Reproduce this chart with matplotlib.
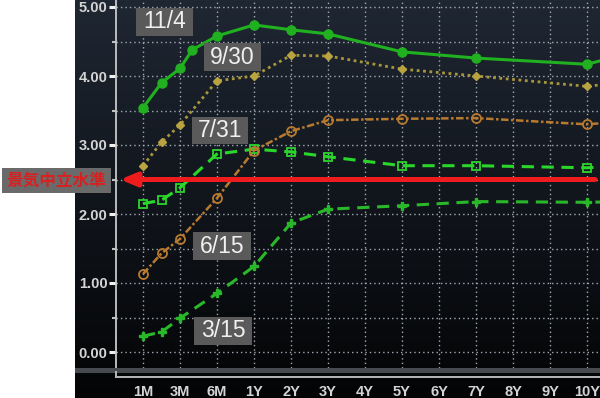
import numpy as np
import matplotlib
matplotlib.use("Agg")
import matplotlib.pyplot as plt
from matplotlib.patches import Rectangle
from matplotlib.lines import Line2D

# ---------------- data ----------------
tick_labels = ["1M", "3M", "6M", "1Y", "2Y", "3Y", "4Y", "5Y", "6Y", "7Y", "8Y", "9Y", "10Y"]
tick_months = [1, 3, 6, 12, 24, 36, 48, 60, 72, 84, 96, 108, 120, 240]  # 240 = off-screen 20Y

months_1104 = [1, 2, 3, 4, 6, 12, 24, 36, 60, 84, 120, 240]
yield_1104 = [3.54, 3.90, 4.11, 4.38, 4.58, 4.74, 4.67, 4.61, 4.35, 4.26, 4.17, 4.31]

months_other = [1, 2, 3, 6, 12, 24, 36, 60, 84, 120, 240]
yield_0930 = [2.70, 3.04, 3.29, 3.93, 4.00, 4.30, 4.29, 4.10, 4.00, 3.85, 3.91]
yield_0731 = [2.15, 2.20, 2.38, 2.87, 2.94, 2.90, 2.83, 2.70, 2.70, 2.67, 2.70]
yield_0615 = [1.13, 1.43, 1.64, 2.23, 2.92, 3.20, 3.36, 3.38, 3.39, 3.30, 3.34]
yield_0315 = [0.23, 0.29, 0.49, 0.85, 1.24, 1.87, 2.07, 2.12, 2.18, 2.17, 2.18]

series_labels = ["11/4", "9/30", "7/31", "6/15", "3/15"]
neutral_level = 2.5
neutral_label = "景気中立水準"

y_ticks = [0, 1, 2, 3, 4, 5]


def pos(months):
    return np.interp(months, tick_months, np.arange(len(tick_months)))


# ---------------- figure ----------------
W, H = 600, 398
fig = plt.figure(figsize=(6, 3.98), dpi=100, facecolor="white")

# dark panel with vertical gradient
bg = fig.add_axes([75 / W, 0, 525 / W, 1], zorder=0)
grad = np.linspace(0, 1, 256).reshape(-1, 1)
top = np.array([0x1f, 0x27, 0x33]) / 255
bot = np.array([0x03, 0x04, 0x05]) / 255
img = top[None, None, :] * (1 - grad[:, :, None]) + bot[None, None, :] * grad[:, :, None]
bg.imshow(img, aspect="auto", extent=[0, 1, 0, 1], origin="upper")
bg.set_axis_off()

ax = fig.add_axes([116 / W, (H - 368) / H, 484 / W, 368 / H], zorder=2)
ax.patch.set_alpha(0)
ax.set_xlim(-27 / 37, 457 / 37)
ax.set_ylim(-16 / 69, 352 / 69)

# grid
grid_kw = dict(color="#a4aab2", lw=1.0, ls=(0, (1, 2.2)), zorder=1)
for i in range(len(tick_labels)):
    ax.axvline(i, **grid_kw)
for v in np.arange(0, 5.01, 0.5):
    ax.axhline(v, **grid_kw)

# series
ax.plot(pos(months_1104), yield_1104, color="#20b020", lw=2.2, ls="-",
        marker="o", ms=6.5, mfc="#20b020", mec="#20b020", zorder=5)
ax.plot(pos(months_other), yield_0930, color="#a8973a", lw=2.0, ls=(0, (1, 1.3)),
        marker="D", ms=4, mfc="#b8a340", mec="#b8a340", zorder=4)
ax.plot(pos(months_other), yield_0731, color="#2bd62b", lw=2.2, ls=(0, (4, 2.5)),
        marker="s", ms=6, mfc="none", mec="#2bd62b", mew=1.3, zorder=4)
ax.plot(pos(months_other), yield_0615, color="#b87a2e", lw=1.8, ls=(0, (3, 1, 1, 1)),
        marker="o", ms=6.5, mfc="none", mec="#b87a2e", mew=1.3, zorder=4)
ax.plot(pos(months_other), yield_0315, color="#2ab82a", lw=2.2, ls=(0, (4, 2.5)),
        marker="P", ms=5.5, mfc="#2ab82a", mec="#2ab82a", zorder=4)

# series label boxes (data coords: x0, x1, y0, y1)
boxes = [(-0.19, 1.35, 4.58, 4.99), (1.65, 3.19, 4.07, 4.48), (1.32, 2.84, 3.01, 3.41),
         (1.35, 2.92, 1.33, 1.74), (1.38, 2.95, 0.10, 0.51)]
for lab, (x0, x1, y0, y1) in zip(series_labels, boxes):
    ax.add_patch(Rectangle((x0, y0), x1 - x0, y1 - y0, facecolor="#5a5a5a",
                           edgecolor="none", zorder=6))
    ax.text((x0 + x1) / 2, (y0 + y1) / 2, lab, ha="center", va="center",
            color="#f0f0f0", fontsize=16.5, family="Liberation Sans", zorder=7)

# neutral level arrow
ax.annotate("", xy=(-0.62, neutral_level), xytext=(12.22, neutral_level),
            arrowprops=dict(arrowstyle="-|>,head_length=0.6,head_width=0.25",
                            color="#ee1c1c", lw=3.6, mutation_scale=16, shrinkA=0, shrinkB=0),
            annotation_clip=False, zorder=8)

# axes styling
for s in ["top", "right", "bottom"]:
    ax.spines[s].set_visible(False)
ax.spines["left"].set_color("#c8c8c8")
ax.spines["left"].set_linewidth(1.3)

ax.set_yticks(y_ticks)
ax.set_yticklabels([f"{v:.2f}" for v in y_ticks])
ax.set_yticks(np.arange(0.5, 5, 1), minor=True)
ax.tick_params(axis="y", which="major", length=5, width=2.2, color="#f0f0f0",
               labelcolor="#d4d4d4", labelsize=10.5, pad=1)
ax.tick_params(axis="y", which="minor", length=3, width=1.5, color="#c0c0c0")
for t in ax.get_yticklabels():
    t.set_fontfamily("Liberation Sans")
    t.set_fontweight("bold")

ax.set_xticks(range(len(tick_labels)))
ax.set_xticklabels(tick_labels)
ax.tick_params(axis="x", length=0, pad=12, labelcolor="#d4d4d4", labelsize=10.5)
for t in ax.get_xticklabels():
    t.set_fontfamily("Liberation Sans")
    t.set_fontweight("bold")

# bottom bar and axis line
fig.add_artist(Rectangle((75 / W, (H - 373) / H), 525 / W, 5 / H, transform=fig.transFigure,
                         facecolor="#474a4e", edgecolor="none", zorder=3))
fig.add_artist(Line2D([116 / W, 1], [(H - 377) / H] * 2, transform=fig.transFigure,
                      color="#b8b8b8", lw=1.4, zorder=3))
fig.add_artist(Line2D([116 / W, 116 / W], [(H - 377) / H, (H - 372) / H], transform=fig.transFigure,
                      color="#b8b8b8", lw=1.4, zorder=3))

# left label box
fig.add_artist(Rectangle((2 / W, (H - 193) / H), 109 / W, 25 / H, transform=fig.transFigure,
                         facecolor="#6a6a6a", edgecolor="none", zorder=9))
fig.text(56.5 / W, (H - 180.5) / H, neutral_label, ha="center", va="center", color="#d82020",
         fontsize=12, fontweight="bold", family=["Noto Sans CJK JP", "DejaVu Sans"], zorder=10)

fig.savefig("out.png", dpi=100, facecolor="white")
